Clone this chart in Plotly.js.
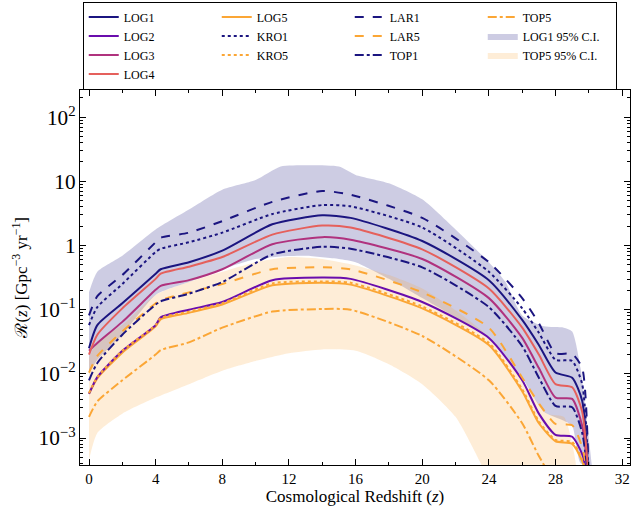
<!DOCTYPE html>
<html><head><script src="https://cdn.plot.ly/plotly-3.0.1.min.js"></script></head>
<body style="margin:0"><div id="c" style="width:633px;height:511px"></div>
<script>
// log10 rate values
const z    = [0, 0.5, 2, 4, 4.3, 6, 8, 11, 14, 15.7, 20, 24, 26, 27, 28, 29, 29.6, 30];
const LOG1 = [-1.60,-1.24,-0.90,-0.44,-0.37,-0.26,-0.08,0.33,0.47,0.43,0.07,-0.54,-1.16,-1.55,-1.98,-2.06,-2.42,-3.69];
const LAR1 = [-1.09,-0.79,-0.46,0.05,0.12,0.20,0.38,0.68,0.85,0.79,0.43,-0.26,-0.82,-1.21,-1.68,-1.69,-1.91,-3.69];
const KRO1 = [-1.24,-0.96,-0.60,-0.10,-0.05,0.05,0.20,0.49,0.63,0.61,0.28,-0.41,-0.98,-1.36,-1.78,-1.80,-2.16,-3.69];
const LOG4 = [-1.70,-1.39,-0.98,-0.52,-0.44,-0.33,-0.18,0.17,0.31,0.28,-0.06,-0.67,-1.28,-1.70,-2.16,-2.21,-2.59,-3.69];
const LOG3 = [-1.64,-1.52,-1.19,-0.69,-0.63,-0.54,-0.37,0.02,0.13,0.09,-0.21,-0.82,-1.44,-1.91,-2.37,-2.39,-2.81,-3.69];
const TOP1 = [-2.10,-1.83,-1.39,-0.92,-0.87,-0.75,-0.57,-0.14,-0.02,-0.05,-0.34,-0.96,-1.57,-2.06,-2.50,-2.52,-2.92,-3.69];
const LAR5 = [-1.98,-1.72,-1.34,-0.90,-0.85,-0.73,-0.60,-0.37,-0.34,-0.37,-0.73,-1.28,-2.06,-2.46,-2.78,-2.80,-3.14,-3.69];
const LOG2 = [-2.31,-2.05,-1.64,-1.24,-1.12,-1.00,-0.88,-0.54,-0.50,-0.52,-0.88,-1.44,-2.10,-2.62,-2.95,-2.98,-3.25,-3.69];
const LOG5 = [-2.31,-2.07,-1.67,-1.26,-1.15,-1.05,-0.92,-0.62,-0.58,-0.61,-0.98,-1.55,-2.27,-2.77,-3.05,-3.09,-3.36,-3.69];
const KRO5 = [-2.30,-2.05,-1.64,-1.24,-1.13,-1.03,-0.90,-0.59,-0.56,-0.58,-0.95,-1.52,-2.24,-2.74,-3.03,-3.06,-3.34,-3.69];
const TOP5 = [-2.67,-2.43,-2.10,-1.70,-1.63,-1.51,-1.28,-1.03,-0.99,-1.00,-1.41,-2.10,-2.77,-3.28,-3.69,-3.8,-3.8,-3.8];
const bz1  = [0, 0.5, 2, 4, 6, 8, 10, 11.5, 13, 15, 16, 18, 20, 22, 24, 25, 26, 27.3, 28.5, 29, 29.5, 30.2];
const CI1u = [-0.73,-0.41,-0.16,0.25,0.56,0.87,1.02,1.23,1.25,1.23,1.10,0.97,0.72,0.25,-0.26,-0.57,-1.09,-1.26,-1.28,-1.34,-1.91,-3.47];
const CI1l = [-2.00,-1.78,-1.39,-0.77,-0.57,-0.37,-0.21,-0.17,-0.16,-0.21,-0.26,-0.52,-0.82,-1.12,-1.44,-1.72,-2.06,-2.59,-2.73,-2.81,-3.39,-3.47];
const bz5  = [0, 0.5, 2, 4, 6, 8, 10, 12, 14, 16, 18, 20, 22, 23.5, 24, 26, 27.5, 28.5, 29.2];
const CI5u = [-1.75,-1.50,-1.24,-0.77,-0.57,-0.41,-0.26,-0.18,-0.21,-0.31,-0.46,-0.67,-1.01,-1.31,-1.44,-2.10,-2.62,-2.67,-3.36];
const CI5l = [-3.34,-2.92,-2.62,-2.37,-2.16,-1.95,-1.80,-1.68,-1.62,-1.64,-1.85,-2.16,-2.67,-3.39,-3.69,-3.69,-3.69,-3.69,-3.69];

const p = a => a.map(v => Math.pow(10, v));
const NAVY='#1b1580', PUR='#6a0dad', MAG='#b0327e', COR='#e5605c', ORA='#fba635';
function ln(name, y, color, dash, rank){return {x:z, y:p(y), name, mode:'lines', line:{color, width:2, dash, shape:'spline', smoothing:0.6}, legendrank:rank};}
const data = [
 {x:bz1.concat(bz1.slice().reverse()), y:p(CI1u).concat(p(CI1l).reverse()), fill:'toself', fillcolor:'rgba(27,21,128,0.22)', line:{width:0, shape:'spline', smoothing:0.6}, mode:'lines', name:'LOG1 95% C.I.', legendrank:8},
 {x:bz5.concat(bz5.slice().reverse()), y:p(CI5u).concat(p(CI5l).reverse()), fill:'toself', fillcolor:'rgba(251,166,53,0.2)', line:{width:0, shape:'spline', smoothing:0.6}, mode:'lines', name:'TOP5 95% C.I.', legendrank:12},
 ln('LOG1',LOG1,NAVY,'solid',1), ln('LOG5',LOG5,ORA,'solid',2), ln('LAR1',LAR1,NAVY,'dash',3), ln('TOP5',TOP5,ORA,'dashdot',4),
 ln('LOG2',LOG2,PUR,'solid',5), ln('KRO1',KRO1,NAVY,'dot',6), ln('LAR5',LAR5,ORA,'dash',7),
 ln('LOG3',LOG3,MAG,'solid',9), ln('KRO5',KRO5,ORA,'dot',10), ln('TOP1',TOP1,NAVY,'dashdot',11),
 ln('LOG4',LOG4,COR,'solid',13)
];
const ax = {showline:true, mirror:'ticks', linecolor:'#000', linewidth:1, ticks:'inside', ticklen:6, tickcolor:'#000', showgrid:false, zeroline:false};
Plotly.newPlot('c', data, {
 width:633, height:511, margin:{l:80, r:3, t:85, b:46},
 font:{family:'Liberation Serif, serif', size:15, color:'#000'},
 plot_bgcolor:'#fff', paper_bgcolor:'#fff',
 xaxis:Object.assign({}, ax, {range:[-0.54,32.47], dtick:4, tick0:0, minor:{dtick:2, ticks:'inside', ticklen:3, tickcolor:'#000'},
   title:{text:'Cosmological Redshift (<i>z</i>)', standoff:2, font:{size:17}}}),
 yaxis:Object.assign({}, ax, {type:'log', range:[-3.42,2.43], dtick:1, exponentformat:'power', tickfont:{size:17},
   minor:{ticks:'inside', ticklen:3, tickcolor:'#000', dtick:'D1'},
   title:{text:'ℛ(<i>z</i>) [Gpc<sup>−3</sup> yr<sup>−1</sup>]', standoff:6, font:{size:17}}}),
 legend:{orientation:'h', x:0.005, xanchor:'left', yref:'container', y:0.997, yanchor:'top', entrywidth:88, bordercolor:'#000', borderwidth:1,
   font:{size:12}, tracegroupgap:0, traceorder:'normal'},
 showlegend:true
}, {staticPlot:true});
</script></body></html>
